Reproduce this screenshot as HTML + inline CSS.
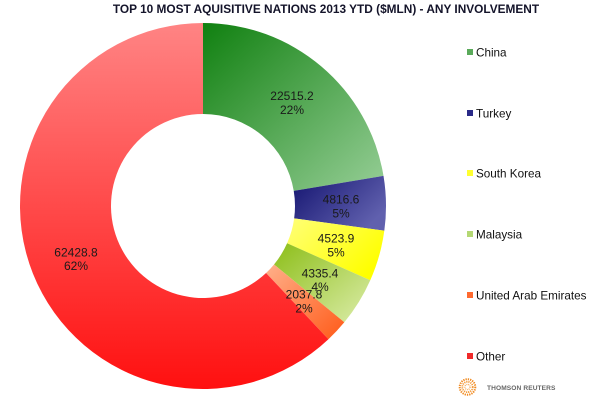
<!DOCTYPE html>
<html>
<head>
<meta charset="utf-8">
<style>
  html, body { margin: 0; padding: 0; background: #ffffff; }
  body { width: 600px; height: 400px; overflow: hidden; }
  svg { display: block; }
  text { font-family: "Liberation Sans", Arial, sans-serif; }
</style>
</head>
<body>
<svg width="600" height="400" viewBox="0 0 600 400" xmlns="http://www.w3.org/2000/svg">
  <defs>
    <linearGradient id="gChina" x1="0" y1="0" x2="1" y2="1">
      <stop offset="0" stop-color="#108010"/>
      <stop offset="1" stop-color="#96ce96"/>
    </linearGradient>
    <linearGradient id="gTurkey" x1="0" y1="0" x2="1" y2="0.6">
      <stop offset="0" stop-color="#141470"/>
      <stop offset="1" stop-color="#6060ae"/>
    </linearGradient>
    <linearGradient id="gSK" x1="0" y1="0" x2="1" y2="0.6">
      <stop offset="0" stop-color="#ffff78"/>
      <stop offset="1" stop-color="#ffff00"/>
    </linearGradient>
    <linearGradient id="gMal" x1="0" y1="0" x2="1" y2="1">
      <stop offset="0" stop-color="#8cbe18"/>
      <stop offset="1" stop-color="#dcedaa"/>
    </linearGradient>
    <linearGradient id="gUAE" x1="0" y1="0" x2="1" y2="1">
      <stop offset="0" stop-color="#ffb08a"/>
      <stop offset="1" stop-color="#ff5a18"/>
    </linearGradient>
    <linearGradient id="gOther" x1="0" y1="0" x2="0" y2="1">
      <stop offset="0" stop-color="#ff8484"/>
      <stop offset="1" stop-color="#ff1010"/>
    </linearGradient>
  </defs>

  <!-- Title -->
  <text x="326" y="13" text-anchor="middle" font-size="11.85" font-weight="bold" fill="#14142a">TOP 10 MOST AQUISITIVE NATIONS 2013 YTD ($MLN) - ANY INVOLVEMENT</text>

  <!-- Donut slices: center (203,206), R=183, r=92 -->
  <path d="M203 23 A183 183 0 0 1 383.50 175.88 L293.74 190.86 A92 92 0 0 0 203 114 Z" fill="url(#gChina)"/>
  <path d="M383.50 175.88 A183 183 0 0 1 384.33 230.68 L294.16 218.41 A92 92 0 0 0 293.74 190.86 Z" fill="url(#gTurkey)"/>
  <path d="M384.33 230.68 A183 183 0 0 1 370.27 280.22 L287.09 243.31 A92 92 0 0 0 294.16 218.41 Z" fill="url(#gSK)"/>
  <path d="M370.27 280.22 A183 183 0 0 1 344.32 322.27 L274.04 264.45 A92 92 0 0 0 287.09 243.31 Z" fill="url(#gMal)"/>
  <path d="M344.32 322.27 A183 183 0 0 1 328.44 339.24 L266.06 272.98 A92 92 0 0 0 274.04 264.45 Z" fill="url(#gUAE)"/>
  <path d="M328.44 339.24 A183 183 0 1 1 203 23 L203 114 A92 92 0 1 0 266.06 272.98 Z" fill="url(#gOther)"/>

  <!-- Data labels -->
  <g font-size="12" fill="#1a1a1a" text-anchor="middle">
    <text x="292" y="100">22515.2</text>
    <text x="292" y="114">22%</text>
    <text x="341" y="203.5">4816.6</text>
    <text x="341" y="217.5">5%</text>
    <text x="336" y="242.5">4523.9</text>
    <text x="336" y="256.5">5%</text>
    <text x="320" y="277.5">4335.4</text>
    <text x="320" y="291">4%</text>
    <text x="304" y="298.5">2037.8</text>
    <text x="304" y="312.5">2%</text>
    <text x="76" y="256.5">62428.8</text>
    <text x="76" y="270">62%</text>
  </g>

  <!-- Legend -->
  <g font-size="11.7" fill="#111">
    <rect x="467" y="49" width="6" height="6" fill="#5aaa5a"/>
    <text x="476" y="56.5">China</text>
    <rect x="467" y="110" width="6" height="6" fill="#2a2a88"/>
    <text x="476" y="117.5">Turkey</text>
    <rect x="467" y="170" width="6" height="6" fill="#ffff30"/>
    <text x="476" y="177.5">South Korea</text>
    <rect x="467" y="231" width="6" height="6" fill="#b4d874"/>
    <text x="476" y="238.5">Malaysia</text>
    <rect x="467" y="292" width="6" height="6" fill="#ff6a30"/>
    <text x="476" y="299.5">United Arab Emirates</text>
    <rect x="467" y="353" width="6" height="6" fill="#f02a2a"/>
    <text x="476" y="360.5">Other</text>
  </g>

  <!-- Thomson Reuters logo -->
  <g fill="none" stroke="#f08a20">
    <circle cx="467.5" cy="387" r="7.8" stroke-width="2" stroke-dasharray="1.3 1"/>
    <circle cx="467.5" cy="387" r="5.2" stroke-width="1.8" stroke-dasharray="1.2 0.9" stroke="#f49a38"/>
    <circle cx="467.5" cy="387" r="2.6" stroke-width="1.4" stroke-dasharray="1 0.8" stroke="#f7b060"/>
  </g>
  <text x="487" y="390" font-size="6.6" fill="#666" font-weight="bold" letter-spacing="0.1">THOMSON REUTERS</text>
</svg>
</body>
</html>
